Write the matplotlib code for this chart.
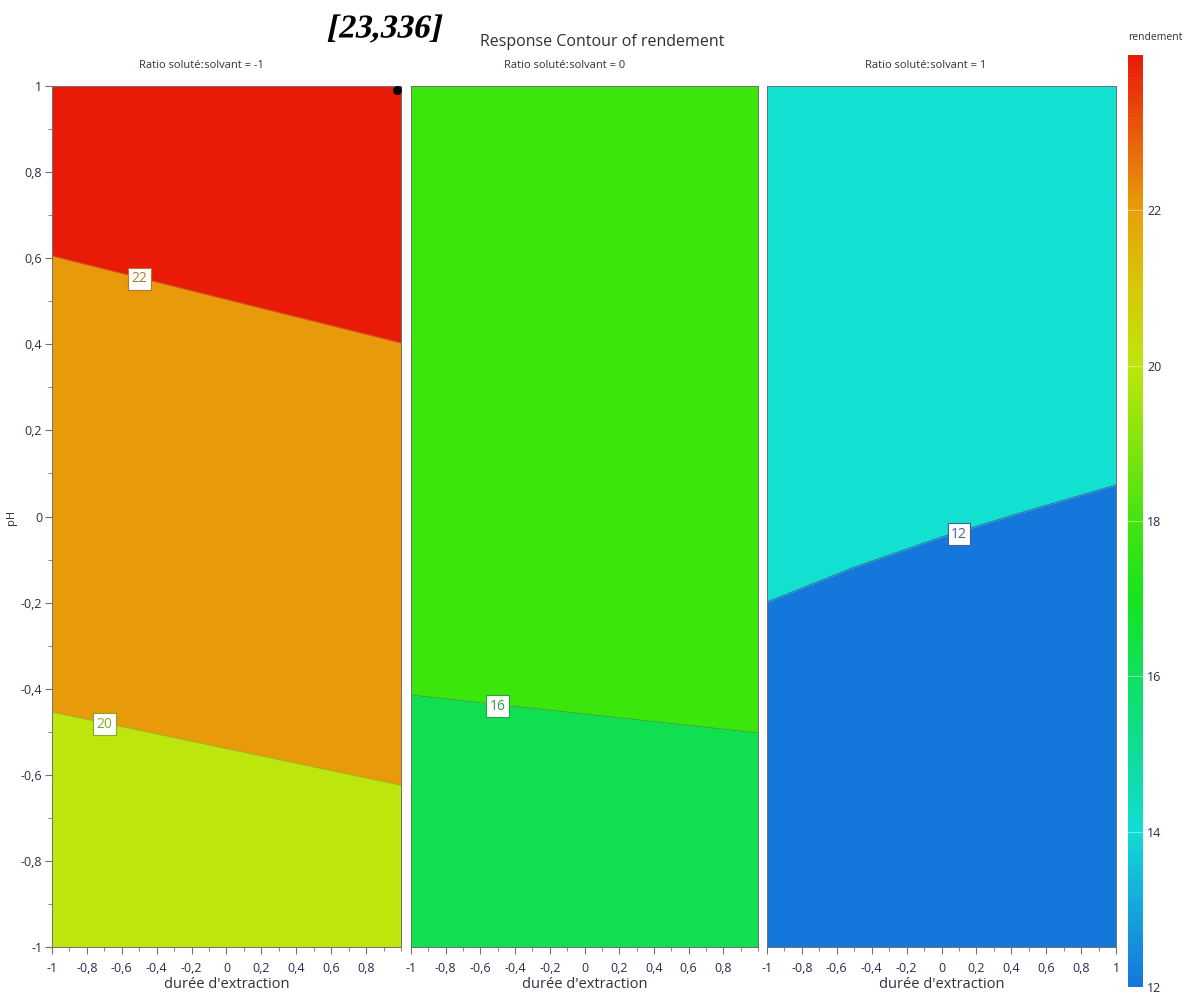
import numpy as np
import matplotlib.pyplot as plt
from matplotlib.colors import LinearSegmentedColormap, Normalize
from matplotlib.ticker import FuncFormatter, MultipleLocator
from matplotlib.patheffects import AbstractPathEffect
from matplotlib.transforms import Affine2D
import matplotlib.cm as cm

plt.rcParams['font.family'] = ['Open Sans', 'DejaVu Sans']

# response bands (rendement) and their fill colours
levels = [12, 14, 16, 18, 20, 22, 24]
band_colors = ['#1477db', '#12e0d0', '#10e050', '#3ae60c', '#bce60c', '#e89a0a', '#ea1a08']

# colour scale of the legend bar
cbar_vals = [12, 13, 14, 15, 16, 17, 18, 19, 20, 21, 22, 23, 24]
cbar_cols = ['#1477db', '#16a6dc', '#12dcd4', '#10dc98', '#10e060', '#16e41e', '#44e410',
             '#84e40e', '#bce60c', '#d8c80a', '#e8a00a', '#e85c0a', '#e81a0a']
cbar_ticks = [12, 14, 16, 18, 20, 22]

ratios = [-1, 0, 1]

# contour lines per panel: level, pH points along duration, label (x, y)
p1_x = [-1, 1]
p1_lines = [(20, [-0.454, -0.624], (-0.70, -0.482)),
            (22, [0.605, 0.403], (-0.50, 0.552))]
p2_x = [-1, 1]
p2_lines = [(16, [-0.415, -0.503], (-0.50, -0.441))]
p3_x = [-1, -0.5, 0, 0.5, 1]
p3_lines = [(12, [-0.199, -0.118, -0.048, 0.014, 0.073], (0.10, -0.041))]

panels = [(p1_x, p1_lines), (p2_x, p2_lines), (p3_x, p3_lines)]

line_cols = {12: '#2e5fa8', 16: '#22a84a', 20: '#98b818', 22: '#c86a18'}
label_cols = {12: '#4a5a9a', 16: '#2ea040', 20: '#86a828', 22: '#b07830'}

# point marked on the first panel
pt_x, pt_y = 0.977, 0.99


class Slant(AbstractPathEffect):
    """Shear glyphs around the text origin (fake italic)."""

    def __init__(self, deg=12):
        super().__init__()
        self.deg = deg

    def draw_path(self, renderer, gc, tpath, affine, rgbFace=None):
        m = affine.get_matrix()
        x0, y0 = m[0, 2], m[1, 2]
        shear = Affine2D().translate(-x0, -y0).skew_deg(self.deg, 0).translate(x0, y0)
        renderer.draw_path(gc, tpath, affine + shear, rgbFace)


W, H = 1195, 998
fig = plt.figure(figsize=(W / 100, H / 100), dpi=100)

ax_px = [(52, 349), (411, 347), (767, 349)]
bottom = 1 - 947 / H
height = (947 - 86) / H


def fmt_comma(v, pos):
    v = round(v, 2) + 0.0
    if abs(v) < 1e-9:
        return '0'
    return ('%g' % v).replace('.', ',')


comma = FuncFormatter(fmt_comma)
tick_col = '#2a2a4a'

for i, ((xs, lines), (left, wpx)) in enumerate(zip(panels, ax_px)):
    ax = fig.add_axes([left / W, bottom, wpx / W, height])
    xs = np.array(xs)
    lo = np.full(len(xs), -1.0)
    for level, ph, lab in lines:
        ph = np.array(ph)
        ax.fill_between(xs, lo, ph, color=band_colors[levels.index(level)], lw=0)
        lo = ph
    last = lines[-1][0]
    ax.fill_between(xs, lo, np.ones(len(xs)), color=band_colors[levels.index(last) + 1], lw=0)
    for level, ph, lab in lines:
        ax.plot(xs, ph, color=line_cols[level], lw=0.9, alpha=0.8)
        ax.text(lab[0], lab[1], str(level), ha='center', va='center', fontsize=10,
                color=label_cols[level],
                bbox=dict(boxstyle='square,pad=0.25', fc='white', ec=label_cols[level], lw=0.8))
    if i == 0:
        ax.scatter([pt_x], [pt_y], s=30, color='black', zorder=5, clip_on=False)
    ax.set_xlim(-1, 1)
    ax.set_ylim(-1, 1)
    for s in ax.spines.values():
        s.set_color('#707070')
        s.set_linewidth(0.7)
    if i < 2:
        ax.set_xticks(np.arange(-1, 0.85, 0.2))
    else:
        ax.set_xticks(np.arange(-1, 1.05, 0.2))
    ax.xaxis.set_minor_locator(MultipleLocator(0.1))
    ax.xaxis.set_major_formatter(comma)
    ax.tick_params(axis='x', which='major', length=5, color='#707070', labelsize=9,
                   labelcolor=tick_col, pad=6)
    ax.tick_params(axis='x', which='minor', length=3, color='#707070')
    ax.set_xlabel("durée d'extraction", fontsize=10.5, color='#303040', labelpad=1)
    if i == 0:
        ax.set_yticks(np.arange(-1, 1.05, 0.2))
        ax.yaxis.set_minor_locator(MultipleLocator(0.1))
        ax.yaxis.set_major_formatter(comma)
        ax.tick_params(axis='y', which='major', length=5, color='#707070', labelsize=9,
                       labelcolor=tick_col, pad=2)
        ax.tick_params(axis='y', which='minor', length=3, color='#707070')
    else:
        ax.set_yticks([])

# panel titles
for r, cx in zip(ratios, [201, 565, 926]):
    fig.text(cx / W, 1 - 65 / H, 'Ratio solutéːsolvant = %d' % r, ha='center', va='center',
             fontsize=8, color='#303040')

fig.text(12 / W, 1 - 517 / H, 'pH', rotation=90, ha='center', va='center', fontsize=8,
         color='#303040')
fig.text(602 / W, 1 - 42 / H, 'Response Contour of rendement', ha='center', va='center',
         fontsize=11.5, color='#303030')
fig.text(383 / W, 1 - 29 / H, '[23,336]', ha='center', va='center', fontsize=24,
         family='Liberation Serif', weight='bold', color='black',
         path_effects=[Slant(12)])
fig.text(1155 / W, 1 - 38 / H, 'rendement', ha='center', va='center', fontsize=7.5,
         color='#303040')

# colour bar
cmap = LinearSegmentedColormap.from_list(
    'rend', [((v - 12) / 12, c) for v, c in zip(cbar_vals, cbar_cols)])
cax = fig.add_axes([1128 / W, 1 - 987 / H, 15 / W, (987 - 55) / H])
cb = fig.colorbar(cm.ScalarMappable(norm=Normalize(12, 24), cmap=cmap), cax=cax)
cb.outline.set_visible(False)
cb.set_ticks(cbar_ticks)
cb.ax.tick_params(length=0, labelsize=9, labelcolor=tick_col, pad=3)
for t in cbar_ticks[1:]:
    cax.axhline(t, color='white', lw=0.6, alpha=0.5)

fig.savefig('out.png', dpi=100)
